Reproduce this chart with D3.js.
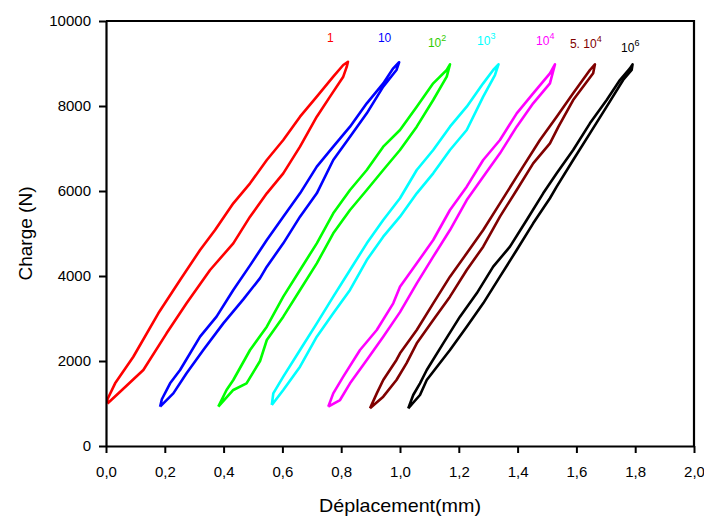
<!DOCTYPE html>
<html>
<head>
<meta charset="utf-8">
<script src="https://cdn.jsdelivr.net/npm/d3@7"></script>
<style>
  html, body { margin: 0; padding: 0; background: #fff; }
  svg { display: block; }
  text { font-family: "Liberation Sans", Arial, sans-serif; }
</style>
</head>
<body>
<svg id="chart" width="704" height="519"></svg>
<script>
// ---------- data ----------
const xTicks = [0, 0.2, 0.4, 0.6, 0.8, 1.0, 1.2, 1.4, 1.6, 1.8, 2.0];
const yTicks = [0, 2000, 4000, 6000, 8000, 10000];

const seriesNames = ["1", "10", "10²", "10³", "10⁴", "5.10⁴", "10⁶"];
const seriesColors = ["#ff0000", "#0000ff", "#00ff00", "#00ffff", "#ff00ff", "#800000", "#000000"];

// Each loop: [displacement (mm), load (N)] — loading branch up then unloading branch down
const loop1 = [
  [0.005,1000],[0.048,1278],[0.127,1788],[0.206,2651],[0.274,3357],[0.354,4141],[0.433,4769],
  [0.490,5396],[0.547,5945],[0.603,6416],[0.660,7043],[0.717,7749],[0.762,8220],[0.807,8690],
  [0.819,8925],[0.823,9040],
  [0.807,8965],[0.773,8690],[0.717,8220],[0.660,7749],[0.603,7200],[0.547,6729],[0.490,6180],
  [0.433,5710],[0.371,5082],[0.320,4612],[0.252,3906],[0.178,3122],[0.093,2100],[0.031,1475],
  [0.005,1100],[0.005,1000]
];
const loop10 = [
  [0.184,925],[0.229,1239],[0.274,1710],[0.331,2259],[0.399,2886],[0.467,3450],[0.524,3950],
  [0.547,4220],[0.603,4769],[0.660,5396],[0.717,5945],[0.773,6729],[0.830,7278],[0.887,7827],
  [0.943,8455],[0.988,8847],[0.997,9030],
  [0.977,8886],[0.943,8533],[0.887,8063],[0.830,7514],[0.773,7043],[0.717,6573],[0.660,5945],
  [0.603,5396],[0.547,4847],[0.490,4250],[0.433,3671],[0.376,3043],[0.320,2572],[0.252,1788],
  [0.218,1475],[0.190,1100],[0.184,925]
];
const loop100 = [
  [0.382,925],[0.433,1318],[0.478,1475],[0.524,2000],[0.547,2494],[0.603,3043],[0.660,3671],
  [0.717,4298],[0.773,5004],[0.830,5553],[0.887,6024],[0.943,6494],[1.000,6965],[1.057,7514],
  [1.113,8141],[1.159,8690],[1.170,8980],
  [1.159,8847],[1.113,8533],[1.057,7984],[1.000,7435],[0.943,7043],[0.887,6494],[0.830,6024],
  [0.773,5475],[0.717,4769],[0.660,4141],[0.603,3514],[0.547,2807],[0.490,2259],[0.433,1553],
  [0.410,1318],[0.382,925]
];
const loop1000 = [
  [0.564,965],[0.603,1318],[0.660,1867],[0.717,2572],[0.773,3122],[0.830,3671],[0.887,4376],
  [0.943,4925],[1.000,5396],[1.057,5945],[1.113,6416],[1.170,6965],[1.227,7435],[1.283,8220],
  [1.323,8729],[1.335,8980],
  [1.317,8847],[1.283,8533],[1.227,7984],[1.170,7514],[1.113,6965],[1.057,6494],[1.000,5830],
  [0.943,5318],[0.887,4769],[0.830,4141],[0.773,3514],[0.717,2886],[0.660,2259],[0.603,1631],
  [0.569,1239],[0.564,965]
];
const loop10000 = [
  [0.756,925],[0.796,1082],[0.830,1475],[0.887,2024],[0.943,2572],[1.000,3150],[1.057,3827],
  [1.113,4455],[1.170,5082],[1.227,5788],[1.283,6337],[1.340,6886],[1.397,7514],[1.453,8063],
  [1.510,8533],[1.527,8980],
  [1.510,8769],[1.453,8298],[1.397,7827],[1.340,7200],[1.283,6729],[1.227,6102],[1.170,5553],
  [1.113,4847],[1.057,4298],[1.000,3749],[0.977,3357],[0.921,2729],[0.864,2259],[0.807,1631],
  [0.773,1239],[0.756,925]
];
const loop50000 = [
  [0.898,886],[0.943,1161],[0.988,1553],[1.022,1945],[1.057,2416],[1.113,2965],[1.170,3514],
  [1.227,4141],[1.283,4690],[1.340,5396],[1.397,6024],[1.453,6651],[1.510,7122],[1.539,7514],
  [1.589,8141],[1.657,8769],[1.663,8980],
  [1.646,8847],[1.589,8298],[1.533,7749],[1.476,7200],[1.397,6337],[1.340,5710],[1.283,5082],
  [1.227,4533],[1.170,3984],[1.113,3357],[1.057,2729],[1.000,2180],[0.988,2024],[0.943,1553],
  [0.921,1239],[0.898,886]
];
const loop1e6 = [
  [1.028,886],[1.068,1200],[1.091,1553],[1.170,2259],[1.227,2807],[1.283,3357],[1.340,3984],
  [1.397,4612],[1.453,5239],[1.510,5830],[1.533,6102],[1.589,6729],[1.646,7357],[1.703,7984],
  [1.759,8612],[1.788,8847],[1.791,8980],
  [1.782,8886],[1.748,8612],[1.703,8141],[1.646,7592],[1.589,6965],[1.533,6416],[1.487,5945],
  [1.431,5318],[1.374,4690],[1.317,4220],[1.261,3592],[1.204,3043],[1.147,2416],[1.091,1788],
  [1.068,1475],[1.045,1200],[1.028,886]
];
const loops = [loop1, loop10, loop100, loop1000, loop10000, loop50000, loop1e6];

// label anchors (data units) and their text parts
const labelBase = ["1", "10", "10", "10", "10", "5. 10", "10"];
const labelSup  = ["", "", "2", "3", "4", "4", "6"];
const labelX = [0.752, 0.925, 1.095, 1.262, 1.463, 1.578, 1.752];
const labelY = [9513, 9513, 9388, 9435, 9435, 9365, 9271];

// ---------- chart ----------
const W = 704, H = 519;
const margin = {top: 21, right: 10, bottom: 73, left: 106};
const svg = d3.select("#chart");

const x = d3.scaleLinear().domain([0, 2]).range([margin.left, W - margin.right]);
const y = d3.scaleLinear().domain([0, 10000]).range([H - margin.bottom, margin.top]);

// loops
const line = d3.line().x(d => x(d[0])).y(d => y(d[1]));
svg.append("g").selectAll("path").data(loops).join("path")
  .attr("d", line)
  .attr("fill", "none")
  .attr("stroke", (d, i) => seriesColors[i])
  .attr("stroke-width", 2.6)
  .attr("stroke-linejoin", "round");

// frame (top & right)
svg.append("path")
  .attr("d", `M${x(0)},${y(10000)}H${x(2)}V${y(0)}`)
  .attr("fill", "none").attr("stroke", "#000").attr("stroke-width", 2.2);

// axes
const xAxis = d3.axisBottom(x).tickValues(xTicks).tickSize(7).tickSizeOuter(0).tickPadding(13)
  .tickFormat(d => d3.format(".1f")(d).replace(".", ","));
const gx = svg.append("g").attr("transform", `translate(0,${y(0)})`).call(xAxis);

const yAxis = d3.axisLeft(y).tickValues(yTicks).tickSize(7).tickSizeOuter(0).tickPadding(8)
  .tickFormat(d3.format("d"));
const gy = svg.append("g").attr("transform", `translate(${x(0)},0)`).call(yAxis);

[gx, gy].forEach(g => {
  g.select(".domain").attr("stroke", "#000").attr("stroke-width", 2.2);
  g.selectAll(".tick line").attr("stroke", "#000").attr("stroke-width", 2);
  g.selectAll(".tick text").attr("fill", "#000")
    .style("font-family", "'Liberation Sans', Arial, sans-serif").style("font-size", "15px");
});

// axis titles
svg.append("text")
  .attr("x", (x(0) + x(2)) / 2).attr("y", 512)
  .attr("text-anchor", "middle")
  .style("font-size", "19px")
  .attr("textLength", 162).attr("lengthAdjust", "spacingAndGlyphs")
  .text("Déplacement(mm)");

svg.append("text")
  .attr("transform", `translate(32,${(y(0) + y(10000)) / 2}) rotate(-90)`)
  .attr("text-anchor", "middle")
  .style("font-size", "19px")
  .text("Charge (N)");

// series labels
const lab = svg.append("g").selectAll("text").data(seriesNames).join("text")
  .attr("x", (d, i) => x(labelX[i]))
  .attr("y", (d, i) => y(labelY[i]))
  .attr("fill", (d, i) => seriesColors[i] === "#00ff00" ? "#33cc00" : seriesColors[i])
  .style("font-size", "12px");
lab.append("tspan").text((d, i) => labelBase[i]);
lab.append("tspan").attr("dy", -6).style("font-size", "9px").text((d, i) => labelSup[i]);
</script>
</body>
</html>
